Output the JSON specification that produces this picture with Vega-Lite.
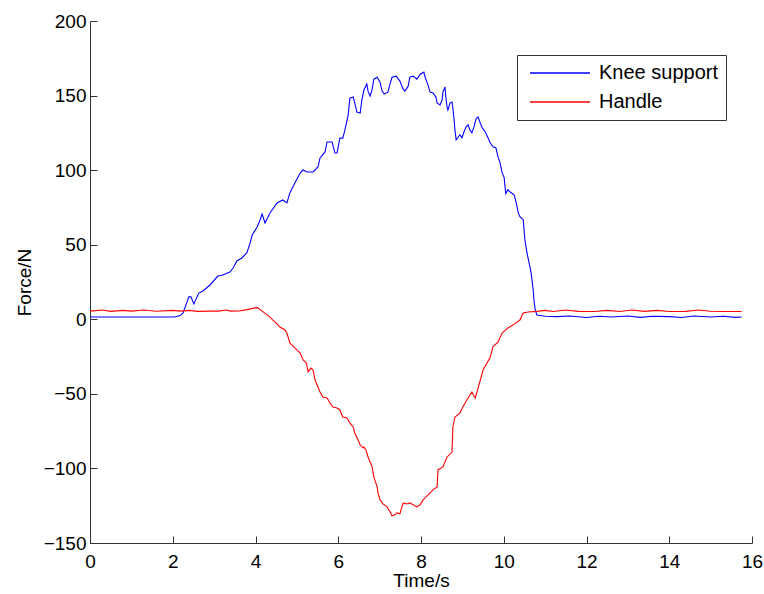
{
  "$schema": "https://vega.github.io/schema/vega-lite/v6.json",
  "autosize": {"type": "none"},
  "width": 662,
  "height": 522,
  "padding": {"left": 90, "top": 21, "right": 12, "bottom": 51},
  "background": "white",
  "config": {
    "view": {"stroke": null},
    "font": "Liberation Sans",
    "axis": {"grid": false, "domainColor": "#333", "tickColor": "#333", "labelColor": "#000", "titleColor": "#000", "labelFontSize": 19, "titleFontSize": 19, "titleFontWeight": "normal", "labelFont": "Liberation Sans", "titleFont": "Liberation Sans", "tickSize": -7, "labelPadding": 12, "labelFlush": false}
  },
  "data": {"values": [
    {"t":0,"F":1.5,"s":"Knee support"},{"t":1.93,"F":1.5,"s":"Knee support"},{"t":2.05,"F":1.5,"s":"Knee support"},{"t":2.18,"F":2.5,"s":"Knee support"},{"t":2.25,"F":4.2,"s":"Knee support"},{"t":2.3,"F":8.2,"s":"Knee support"},{"t":2.39,"F":15,"s":"Knee support"},{"t":2.44,"F":15,"s":"Knee support"},{"t":2.51,"F":10.3,"s":"Knee support"},{"t":2.63,"F":17.6,"s":"Knee support"},{"t":2.73,"F":19,"s":"Knee support"},{"t":2.9,"F":23,"s":"Knee support"},{"t":3.09,"F":29,"s":"Knee support"},{"t":3.21,"F":29.7,"s":"Knee support"},{"t":3.38,"F":31.7,"s":"Knee support"},{"t":3.46,"F":34.4,"s":"Knee support"},{"t":3.55,"F":39.1,"s":"Knee support"},{"t":3.67,"F":41.1,"s":"Knee support"},{"t":3.79,"F":44.5,"s":"Knee support"},{"t":3.87,"F":51.2,"s":"Knee support"},{"t":3.92,"F":56.5,"s":"Knee support"},{"t":4.04,"F":61.9,"s":"Knee support"},{"t":4.11,"F":66.6,"s":"Knee support"},{"t":4.16,"F":70.6,"s":"Knee support"},{"t":4.23,"F":64.6,"s":"Knee support"},{"t":4.35,"F":71.3,"s":"Knee support"},{"t":4.52,"F":78,"s":"Knee support"},{"t":4.66,"F":80,"s":"Knee support"},{"t":4.76,"F":78,"s":"Knee support"},{"t":4.83,"F":84.7,"s":"Knee support"},{"t":4.95,"F":91.4,"s":"Knee support"},{"t":5.08,"F":98.1,"s":"Knee support"},{"t":5.15,"F":100.1,"s":"Knee support"},{"t":5.25,"F":98.8,"s":"Knee support"},{"t":5.39,"F":98.8,"s":"Knee support"},{"t":5.51,"F":102.1,"s":"Knee support"},{"t":5.56,"F":108.2,"s":"Knee support"},{"t":5.68,"F":112.2,"s":"Knee support"},{"t":5.73,"F":118.9,"s":"Knee support"},{"t":5.85,"F":118.9,"s":"Knee support"},{"t":5.92,"F":111.5,"s":"Knee support"},{"t":5.97,"F":111.5,"s":"Knee support"},{"t":6.04,"F":121.5,"s":"Knee support"},{"t":6.11,"F":121.5,"s":"Knee support"},{"t":6.16,"F":126.9,"s":"Knee support"},{"t":6.24,"F":136.9,"s":"Knee support"},{"t":6.28,"F":148.3,"s":"Knee support"},{"t":6.36,"F":149,"s":"Knee support"},{"t":6.4,"F":145,"s":"Knee support"},{"t":6.45,"F":138.9,"s":"Knee support"},{"t":6.53,"F":138.3,"s":"Knee support"},{"t":6.57,"F":147,"s":"Knee support"},{"t":6.62,"F":153.7,"s":"Knee support"},{"t":6.69,"F":157.7,"s":"Knee support"},{"t":6.72,"F":153,"s":"Knee support"},{"t":6.77,"F":149.6,"s":"Knee support"},{"t":6.82,"F":154.3,"s":"Knee support"},{"t":6.86,"F":161,"s":"Knee support"},{"t":6.94,"F":162.3,"s":"Knee support"},{"t":7.01,"F":159,"s":"Knee support"},{"t":7.06,"F":153,"s":"Knee support"},{"t":7.11,"F":151,"s":"Knee support"},{"t":7.2,"F":152.3,"s":"Knee support"},{"t":7.25,"F":157.7,"s":"Knee support"},{"t":7.3,"F":162.3,"s":"Knee support"},{"t":7.4,"F":163,"s":"Knee support"},{"t":7.49,"F":159.7,"s":"Knee support"},{"t":7.57,"F":154.3,"s":"Knee support"},{"t":7.61,"F":153,"s":"Knee support"},{"t":7.69,"F":156.3,"s":"Knee support"},{"t":7.73,"F":162.3,"s":"Knee support"},{"t":7.81,"F":163,"s":"Knee support"},{"t":7.9,"F":161,"s":"Knee support"},{"t":7.98,"F":164.3,"s":"Knee support"},{"t":8.07,"F":165.7,"s":"Knee support"},{"t":8.1,"F":162.3,"s":"Knee support"},{"t":8.17,"F":157,"s":"Knee support"},{"t":8.22,"F":152.3,"s":"Knee support"},{"t":8.29,"F":151.7,"s":"Knee support"},{"t":8.36,"F":149,"s":"Knee support"},{"t":8.39,"F":145,"s":"Knee support"},{"t":8.46,"F":143.7,"s":"Knee support"},{"t":8.51,"F":147,"s":"Knee support"},{"t":8.53,"F":152.3,"s":"Knee support"},{"t":8.58,"F":155.7,"s":"Knee support"},{"t":8.6,"F":149,"s":"Knee support"},{"t":8.63,"F":142.3,"s":"Knee support"},{"t":8.65,"F":140.3,"s":"Knee support"},{"t":8.7,"F":145,"s":"Knee support"},{"t":8.75,"F":145.7,"s":"Knee support"},{"t":8.77,"F":141.7,"s":"Knee support"},{"t":8.8,"F":133.7,"s":"Knee support"},{"t":8.82,"F":127,"s":"Knee support"},{"t":8.85,"F":120.3,"s":"Knee support"},{"t":8.89,"F":121.7,"s":"Knee support"},{"t":8.94,"F":123.7,"s":"Knee support"},{"t":8.99,"F":121.7,"s":"Knee support"},{"t":9.04,"F":125.7,"s":"Knee support"},{"t":9.09,"F":129,"s":"Knee support"},{"t":9.14,"F":130.4,"s":"Knee support"},{"t":9.18,"F":127,"s":"Knee support"},{"t":9.23,"F":125,"s":"Knee support"},{"t":9.28,"F":129,"s":"Knee support"},{"t":9.33,"F":134.4,"s":"Knee support"},{"t":9.38,"F":135.7,"s":"Knee support"},{"t":9.43,"F":131.7,"s":"Knee support"},{"t":9.48,"F":128.4,"s":"Knee support"},{"t":9.55,"F":125.7,"s":"Knee support"},{"t":9.62,"F":121.7,"s":"Knee support"},{"t":9.67,"F":118.4,"s":"Knee support"},{"t":9.74,"F":115.7,"s":"Knee support"},{"t":9.81,"F":115,"s":"Knee support"},{"t":9.86,"F":109,"s":"Knee support"},{"t":9.91,"F":105,"s":"Knee support"},{"t":9.96,"F":98.3,"s":"Knee support"},{"t":10.01,"F":95,"s":"Knee support"},{"t":10.03,"F":88.9,"s":"Knee support"},{"t":10.05,"F":84.2,"s":"Knee support"},{"t":10.1,"F":86.9,"s":"Knee support"},{"t":10.15,"F":85.5,"s":"Knee support"},{"t":10.25,"F":83.5,"s":"Knee support"},{"t":10.3,"F":78.2,"s":"Knee support"},{"t":10.35,"F":71.5,"s":"Knee support"},{"t":10.39,"F":68.8,"s":"Knee support"},{"t":10.47,"F":66.8,"s":"Knee support"},{"t":10.49,"F":60.1,"s":"Knee support"},{"t":10.51,"F":53.5,"s":"Knee support"},{"t":10.56,"F":44.8,"s":"Knee support"},{"t":10.61,"F":38.1,"s":"Knee support"},{"t":10.66,"F":31.4,"s":"Knee support"},{"t":10.71,"F":20.1,"s":"Knee support"},{"t":10.73,"F":13,"s":"Knee support"},{"t":10.76,"F":6.4,"s":"Knee support"},{"t":10.8,"F":2.9,"s":"Knee support"},{"t":11,"F":2,"s":"Knee support"},{"t":11.3,"F":1.8,"s":"Knee support"},{"t":11.6,"F":2.2,"s":"Knee support"},{"t":12,"F":1.2,"s":"Knee support"},{"t":12.3,"F":2,"s":"Knee support"},{"t":12.6,"F":1.5,"s":"Knee support"},{"t":13,"F":2.2,"s":"Knee support"},{"t":13.3,"F":1.3,"s":"Knee support"},{"t":13.6,"F":2,"s":"Knee support"},{"t":14,"F":1.8,"s":"Knee support"},{"t":14.3,"F":1.2,"s":"Knee support"},{"t":14.6,"F":2.2,"s":"Knee support"},{"t":15,"F":1.5,"s":"Knee support"},{"t":15.3,"F":2,"s":"Knee support"},{"t":15.6,"F":1.3,"s":"Knee support"},{"t":15.75,"F":1.5,"s":"Knee support"},
    {"t":0,"F":5.5,"s":"Handle"},{"t":0.3,"F":6.2,"s":"Handle"},{"t":0.5,"F":5.3,"s":"Handle"},{"t":0.8,"F":6,"s":"Handle"},{"t":1,"F":5.5,"s":"Handle"},{"t":1.3,"F":6.2,"s":"Handle"},{"t":1.6,"F":5.4,"s":"Handle"},{"t":2,"F":6,"s":"Handle"},{"t":2.2,"F":5.5,"s":"Handle"},{"t":2.4,"F":6,"s":"Handle"},{"t":2.6,"F":5.3,"s":"Handle"},{"t":2.9,"F":5.5,"s":"Handle"},{"t":3.1,"F":5.5,"s":"Handle"},{"t":3.3,"F":6.2,"s":"Handle"},{"t":3.4,"F":5.5,"s":"Handle"},{"t":3.6,"F":5.6,"s":"Handle"},{"t":3.8,"F":6.5,"s":"Handle"},{"t":3.95,"F":7.5,"s":"Handle"},{"t":4.05,"F":7.8,"s":"Handle"},{"t":4.16,"F":5.5,"s":"Handle"},{"t":4.25,"F":3.6,"s":"Handle"},{"t":4.35,"F":1.5,"s":"Handle"},{"t":4.42,"F":-0.5,"s":"Handle"},{"t":4.52,"F":-3.1,"s":"Handle"},{"t":4.59,"F":-5.2,"s":"Handle"},{"t":4.71,"F":-7.2,"s":"Handle"},{"t":4.76,"F":-9.2,"s":"Handle"},{"t":4.83,"F":-15.9,"s":"Handle"},{"t":4.95,"F":-19.2,"s":"Handle"},{"t":5.08,"F":-22.6,"s":"Handle"},{"t":5.15,"F":-27.3,"s":"Handle"},{"t":5.23,"F":-29.3,"s":"Handle"},{"t":5.27,"F":-35.3,"s":"Handle"},{"t":5.34,"F":-32.7,"s":"Handle"},{"t":5.39,"F":-34,"s":"Handle"},{"t":5.44,"F":-40.7,"s":"Handle"},{"t":5.51,"F":-45.4,"s":"Handle"},{"t":5.56,"F":-48.7,"s":"Handle"},{"t":5.63,"F":-52.1,"s":"Handle"},{"t":5.73,"F":-52.8,"s":"Handle"},{"t":5.8,"F":-56.1,"s":"Handle"},{"t":5.87,"F":-58.8,"s":"Handle"},{"t":5.97,"F":-59.5,"s":"Handle"},{"t":6.04,"F":-60.8,"s":"Handle"},{"t":6.11,"F":-65.5,"s":"Handle"},{"t":6.21,"F":-66.2,"s":"Handle"},{"t":6.28,"F":-69.5,"s":"Handle"},{"t":6.36,"F":-72.2,"s":"Handle"},{"t":6.4,"F":-76.2,"s":"Handle"},{"t":6.48,"F":-80.9,"s":"Handle"},{"t":6.53,"F":-84.3,"s":"Handle"},{"t":6.6,"F":-86.3,"s":"Handle"},{"t":6.62,"F":-85.6,"s":"Handle"},{"t":6.67,"F":-87.6,"s":"Handle"},{"t":6.72,"F":-92.3,"s":"Handle"},{"t":6.77,"F":-95.7,"s":"Handle"},{"t":6.82,"F":-99,"s":"Handle"},{"t":6.86,"F":-105.7,"s":"Handle"},{"t":6.94,"F":-112.4,"s":"Handle"},{"t":6.96,"F":-116.4,"s":"Handle"},{"t":7.01,"F":-121.1,"s":"Handle"},{"t":7.08,"F":-123.8,"s":"Handle"},{"t":7.18,"F":-125.8,"s":"Handle"},{"t":7.25,"F":-129.1,"s":"Handle"},{"t":7.3,"F":-131.8,"s":"Handle"},{"t":7.37,"F":-131.1,"s":"Handle"},{"t":7.42,"F":-129.8,"s":"Handle"},{"t":7.49,"F":-130.4,"s":"Handle"},{"t":7.57,"F":-123.1,"s":"Handle"},{"t":7.66,"F":-123.8,"s":"Handle"},{"t":7.73,"F":-123.1,"s":"Handle"},{"t":7.81,"F":-124.4,"s":"Handle"},{"t":7.9,"F":-125.8,"s":"Handle"},{"t":7.98,"F":-124.4,"s":"Handle"},{"t":8.05,"F":-121.1,"s":"Handle"},{"t":8.29,"F":-114.4,"s":"Handle"},{"t":8.39,"F":-112.4,"s":"Handle"},{"t":8.41,"F":-101,"s":"Handle"},{"t":8.53,"F":-99,"s":"Handle"},{"t":8.63,"F":-92.3,"s":"Handle"},{"t":8.75,"F":-89,"s":"Handle"},{"t":8.77,"F":-72.2,"s":"Handle"},{"t":8.82,"F":-65.5,"s":"Handle"},{"t":8.94,"F":-62.9,"s":"Handle"},{"t":9.01,"F":-58.8,"s":"Handle"},{"t":9.18,"F":-50.8,"s":"Handle"},{"t":9.23,"F":-48.8,"s":"Handle"},{"t":9.31,"F":-52.8,"s":"Handle"},{"t":9.38,"F":-46.1,"s":"Handle"},{"t":9.5,"F":-34,"s":"Handle"},{"t":9.67,"F":-25.7,"s":"Handle"},{"t":9.74,"F":-18.3,"s":"Handle"},{"t":9.86,"F":-15.3,"s":"Handle"},{"t":9.96,"F":-9.2,"s":"Handle"},{"t":10.1,"F":-5.8,"s":"Handle"},{"t":10.22,"F":-3.9,"s":"Handle"},{"t":10.39,"F":-0.5,"s":"Handle"},{"t":10.47,"F":4.2,"s":"Handle"},{"t":10.59,"F":4.9,"s":"Handle"},{"t":10.8,"F":5.3,"s":"Handle"},{"t":11,"F":6,"s":"Handle"},{"t":11.2,"F":5.2,"s":"Handle"},{"t":11.5,"F":6.2,"s":"Handle"},{"t":11.8,"F":5.3,"s":"Handle"},{"t":12.2,"F":5.2,"s":"Handle"},{"t":12.5,"F":6,"s":"Handle"},{"t":12.8,"F":5.2,"s":"Handle"},{"t":13.1,"F":6.2,"s":"Handle"},{"t":13.4,"F":5.3,"s":"Handle"},{"t":13.7,"F":6,"s":"Handle"},{"t":14,"F":5.2,"s":"Handle"},{"t":14.4,"F":5.3,"s":"Handle"},{"t":14.7,"F":6.2,"s":"Handle"},{"t":15,"F":5.4,"s":"Handle"},{"t":15.3,"F":5.2,"s":"Handle"},{"t":15.75,"F":5.2,"s":"Handle"}
  ]},
  "mark": {"type": "line", "strokeWidth": 1.1, "interpolate": "linear"},
  "encoding": {
    "x": {"field": "t", "type": "quantitative", "scale": {"domain": [0, 16], "nice": false}, "axis": {"title": "Time/s", "values": [0,2,4,6,8,10,12,14,16], "titlePadding": 0, "labelPadding": 16}},
    "y": {"field": "F", "type": "quantitative", "scale": {"domain": [-150, 200], "nice": false}, "axis": {"title": "Force/N", "values": [-150,-100,-50,0,50,100,150,200], "titlePadding": 9, "labelPadding": 11}},
    "color": {"field": "s", "type": "nominal", "scale": {"domain": ["Knee support", "Handle"], "range": ["#0000ff", "#ff0000"]},
      "legend": {"title": null, "orient": "none", "legendX": 427, "legendY": 34, "symbolType": "M-6,0H6", "symbolSize": 100, "symbolStrokeWidth": 1.5, "labelFontSize": 20, "labelFont": "Liberation Sans", "labelColor": "#000", "padding": 8, "symbolOffset": 25, "labelOffset": 29, "rowPadding": 9, "strokeColor": "#333", "fillColor": "white"}},
    "order": {"field": "t", "type": "quantitative"}
  }
}
